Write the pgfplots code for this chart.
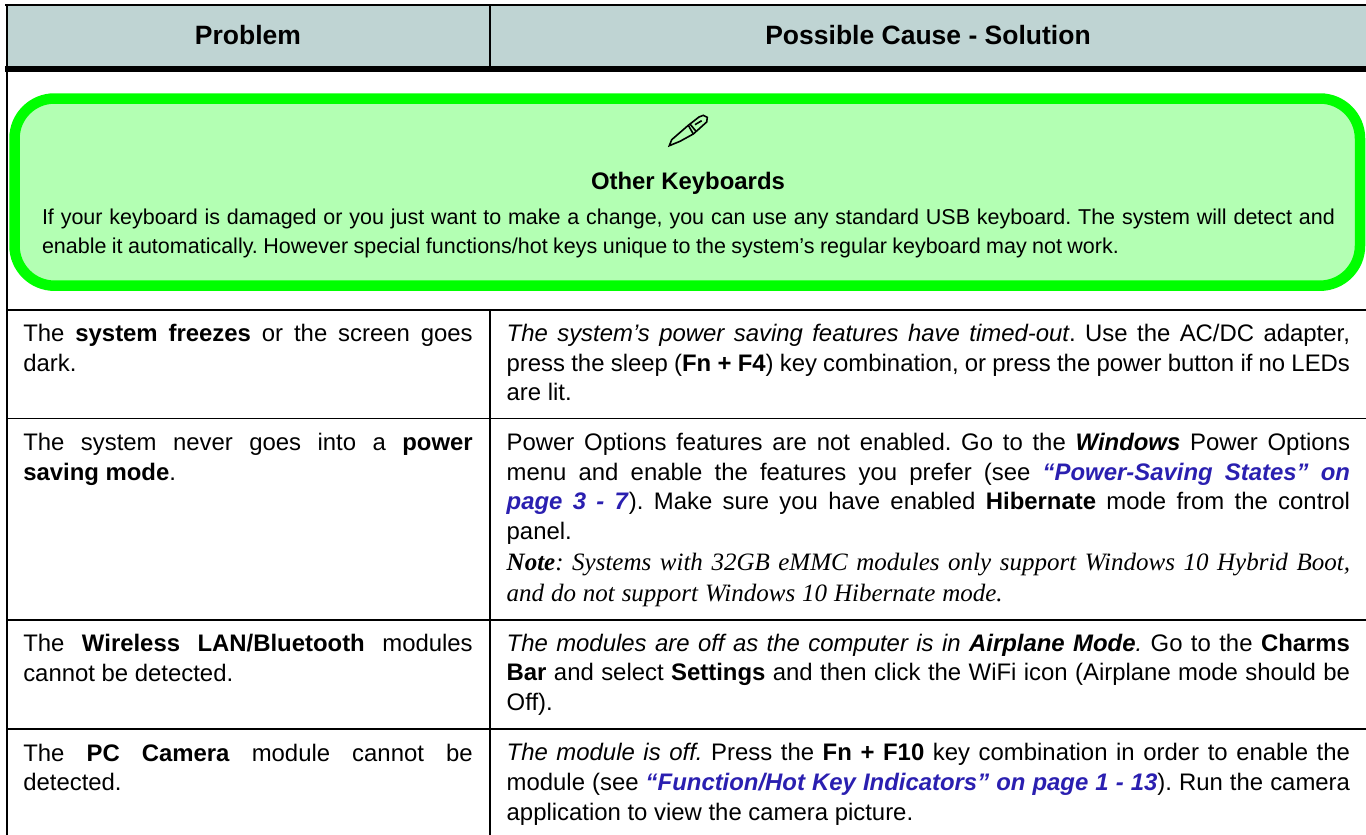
\documentclass[border=0pt]{standalone}
\usepackage{pgfplots}
\pgfplotsset{compat=1.18}
\usepackage{fontspec}
\setmainfont{Liberation Sans}
\newfontfamily\serif{Liberation Serif}
\definecolor{hdr}{HTML}{BFD4D3}
\definecolor{grn}{HTML}{00FF00}
\definecolor{lgrn}{HTML}{B3FFB3}
\definecolor{lnk}{HTML}{2A1FB0}
\newcommand{\LN}[3]{\node[anchor=base west,inner sep=0pt,outer sep=0pt,font=\fontsize{23.9}{29}\selectfont] at (axis cs:#1,#2) {\frenchspacing #3};}
\newcommand{\JL}[4]{\node[anchor=base west,inner sep=0pt,outer sep=0pt,font=\fontsize{23.9}{29}\selectfont] at (axis cs:#1,#2) {\frenchspacing\makebox[#3pt][s]{#4}};}
\newcommand{\KL}[4]{\node[anchor=base west,inner sep=0pt,outer sep=0pt,font=\fontsize{21.5}{29}\selectfont] at (axis cs:#1,#2) {\frenchspacing\makebox[#3pt][s]{#4}};}
\newcommand{\SL}[4]{\node[anchor=base west,inner sep=0pt,outer sep=0pt,font=\serif\fontsize{25}{29}\selectfont] at (axis cs:#1,#2) {\frenchspacing\makebox[#3pt][s]{#4}};}
\newcommand{\lk}[1]{\textcolor{lnk}{\textbf{\textit{#1}}}}
\begin{document}
\begin{tikzpicture}[x=1pt,y=1pt]
\path[use as bounding box] (0,0) rectangle (1366pt,835pt);
\begin{axis}[at={(0,0)},anchor=south west,scale only axis,width=1366pt,height=835pt,
  xmin=0,xmax=1366,ymin=0,ymax=835,y dir=reverse,hide axis,clip=false]
% header
\addplot[fill=hdr,draw=none,forget plot] coordinates {(7,5)(1366,5)(1366,67)(7,67)} --cycle;
\addplot[black,line width=2pt,forget plot] coordinates {(5,5)(1366,5)};
\addplot[black,line width=6pt,forget plot] coordinates {(5,69)(1366,69)};
\addplot[black,line width=2pt,forget plot] coordinates {(7,5)(7,835)};
\addplot[black,line width=1.6pt,forget plot] coordinates {(490,5)(490,67)};
% green box
\addplot[draw=grn,fill=lgrn,line width=10.5pt,rounded corners=40pt,forget plot]
  coordinates {(14.5,98.5)(1360,98.5)(1360,285.7)(14.5,285.7)} --cycle;
% rows
\addplot[black,line width=1.8pt,forget plot] coordinates {(7,310)(1366,310)};
\addplot[black,line width=1.8pt,forget plot] coordinates {(7,418.5)(1366,418.5)};
\addplot[black,line width=1.8pt,forget plot] coordinates {(7,620)(1366,620)};
\addplot[black,line width=1.8pt,forget plot] coordinates {(7,729)(1366,729)};
\addplot[black,line width=2pt,forget plot] coordinates {(490,310)(490,835)};
% pencil
\addplot[black,line width=1.6pt,fill=lgrn,forget plot] coordinates {(669.3,145.7)(671.7,139.7)(688.3,125.3)(699,117)(703.3,115.3)(707.3,117.3)(706.7,122)(700,128)(693.3,134)(680,141.3)} --cycle;
\addplot[black,line width=1.6pt,forget plot] coordinates {(688.3,125.3)(693.3,134)};
\addplot[black,line width=1.6pt,forget plot] coordinates {(690,124)(696,131.3)};
\addplot[black,line width=1.6pt,forget plot] coordinates {(695,124.7)(701.7,120.7)};
% header text
\node[anchor=base,inner sep=0pt,font=\fontsize{26.5}{30}\selectfont\bfseries] at (axis cs:248,44) {Problem};
\node[anchor=base,inner sep=0pt,font=\fontsize{26.5}{30}\selectfont\bfseries] at (axis cs:928,44) {Possible Cause - Solution};
% note
\node[anchor=base,inner sep=0pt,font=\fontsize{23.9}{29}\selectfont\bfseries] at (axis cs:688,189) {Other Keyboards};
\KL{42}{224}{1293}{If your keyboard is damaged or you just want to make a change, you can use any standard USB keyboard. The system will detect and}
\KL{42}{253}{1077}{enable it automatically. However special functions/hot keys unique to the system’s regular keyboard may not work.}
% left column
\JL{23.3}{341.7}{449.4}{The \textbf{system freezes} or the screen goes}
\LN{23.3}{371}{dark.}
\JL{23.3}{450.7}{449.4}{The system never goes into a \textbf{power}}
\LN{23.3}{480}{\textbf{saving mode}.}
\JL{23.3}{651.7}{449.4}{The \textbf{Wireless LAN/Bluetooth} modules}
\LN{23.3}{681}{cannot be detected.}
\JL{23.3}{761}{449.4}{The \textbf{PC Camera} module cannot be}
\LN{23.3}{790}{detected.}
% right column
\JL{506.7}{341.7}{843.3}{\textit{The system’s power saving features have timed-out}. Use the AC/DC adapter,}
\JL{506.7}{371}{843.3}{press the sleep (\textbf{Fn + F4}) key combination, or press the power button if no LEDs}
\LN{506.7}{400}{are lit.}
\JL{506.7}{450.7}{843.3}{Power Options features are not enabled. Go to the \textbf{\textit{Windows}} Power Options}
\JL{506.7}{480}{843.3}{menu and enable the features you prefer (see \lk{“Power-Saving States” on}}
\JL{506.7}{509}{843.3}{\lk{page 3 - 7}). Make sure you have enabled \textbf{Hibernate} mode from the control}
\LN{506.7}{539}{panel.}
\SL{506.7}{570}{843.3}{\textit{\textbf{Note}: Systems with 32GB eMMC modules only support Windows 10 Hybrid Boot,}}
\SL{506.7}{601}{496}{\textit{and do not support Windows 10 Hibernate mode.}}
\JL{506.7}{651.7}{843.3}{\textit{The modules are off as the computer is in }\textbf{\textit{Airplane Mode}}\textit{.} Go to the \textbf{Charms}}
\JL{506.7}{680.7}{843.3}{\textbf{Bar} and select \textbf{Settings} and then click the WiFi icon (Airplane mode should be}
\LN{506.7}{710}{Off).}
\JL{506.7}{760.7}{843.3}{\textit{The module is off.} Press the \textbf{Fn + F10} key combination in order to enable the}
\JL{506.7}{790}{843.3}{module (see \lk{“Function/Hot Key Indicators” on page 1 - 13}). Run the camera}
\LN{506.7}{820}{application to view the camera picture.}
\end{axis}
\end{tikzpicture}
\end{document}
